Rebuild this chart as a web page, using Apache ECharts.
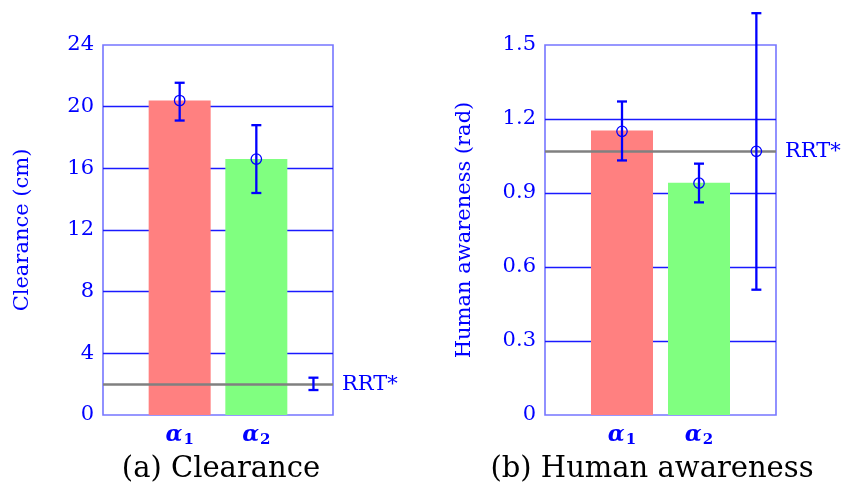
<!DOCTYPE html>
<html><head><meta charset="utf-8">
<script src="https://cdn.jsdelivr.net/npm/echarts@6/dist/echarts.min.js"></script>
<style>html,body{margin:0;padding:0;background:#fff}#c{width:861px;height:493px}</style>
</head><body><div id="c"></div>
<script>
// ---- data ----
const categories = ['α_1', 'α_2'];
const clearanceMean = [20.4, 16.6];
const clearanceLow = [19.1, 14.4];
const clearanceHigh = [21.55, 18.8];
const clearanceRRT = [1.62, 2.0, 2.42];      // low, mean, high
const awarenessBar = [1.153, 0.942];
const awarenessMean = [1.15, 0.94];
const awarenessLow = [1.032, 0.862];
const awarenessHigh = [1.271, 1.019];
const awarenessRRT = [0.508, 1.069, 1.629];  // low, mean, high
const clearanceTicks = [0, 24, 4];           // min, max, step
const awarenessTicks = [0, 1.5, 0.3];
const rrtLabel = 'RRT*';
const captions = ['(a) Clearance', '(b) Human awareness'];
const yNames = ['Clearance (cm)', 'Human awareness (rad)'];

// ---- layout / style ----
const FONT = 'DejaVu Serif';
const BLUE = '#0000ff';
const barColors = ['#ff8080', '#80ff80'];
const RRT_POS = 2.745;
const grids = [
  {left: 103, top: 45, width: 230, height: 370},
  {left: 545, top: 45, width: 231, height: 370}
];

function catLabel(v) {
  const i = Math.round(v) - 1;
  if (Math.abs(v - Math.round(v)) > 1e-6 || i < 0 || i >= categories.length) return '';
  const [m, s] = categories[i].split('_');
  return '{a|' + m + '}{s|' + s + '}';
}

function errRender(params, api) {
  const x = api.value(0), lo = api.value(1), hi = api.value(2), m = api.value(3), circ = api.value(4);
  const pLo = api.coord([x, lo]), pHi = api.coord([x, hi]), pM = api.coord([x, m]);
  const cap = 5;
  const st = {stroke: BLUE, lineWidth: 2.3};
  const children = [
    {type: 'line', shape: {x1: pLo[0], y1: pLo[1], x2: pHi[0], y2: pHi[1]}, style: st},
    {type: 'line', shape: {x1: pLo[0] - cap, y1: pLo[1], x2: pLo[0] + cap, y2: pLo[1]}, style: st},
    {type: 'line', shape: {x1: pHi[0] - cap, y1: pHi[1], x2: pHi[0] + cap, y2: pHi[1]}, style: st}
  ];
  if (circ) children.push({type: 'circle', shape: {cx: pM[0], cy: pM[1], r: 5.2},
    style: {fill: 'none', stroke: BLUE, lineWidth: 1.3}});
  return {type: 'group', children};
}

function xAxisCfg(gi) {
  return {
    type: 'value', gridIndex: gi, min: 0, max: 3, interval: 1,
    axisLine: {show: false}, axisTick: {show: false}, splitLine: {show: false},
    axisLabel: {
      margin: 8, formatter: catLabel,
      rich: {
        a: {fontFamily: FONT, fontSize: 22, fontWeight: 'bold', fontStyle: 'italic', color: BLUE},
        s: {fontFamily: FONT, fontSize: 15, fontWeight: 'bold', color: BLUE, padding: [10, 0, 0, 1]}
      }
    }
  };
}
function yAxisCfg(gi, ticks, name, fmt) {
  return {
    type: 'value', gridIndex: gi, min: ticks[0], max: ticks[1], interval: ticks[2],
    name: name, nameLocation: 'middle', nameGap: 70,
    nameTextStyle: {fontFamily: FONT, fontSize: 21, color: BLUE},
    axisLine: {show: false}, axisTick: {show: false},
    axisLabel: {fontFamily: FONT, fontSize: 21, color: BLUE, margin: 9, formatter: fmt},
    splitLine: {show: true, showMinLine: false, showMaxLine: false, lineStyle: {color: '#1a1aff', width: 1.4}}
  };
}
function rrtMark(v) {
  return {
    silent: true, symbol: 'none',
    data: [{yAxis: v}],
    lineStyle: {color: '#808080', width: 2.6, type: 'solid'},
    label: {show: true, position: 'end', formatter: rrtLabel, color: BLUE, fontFamily: FONT, fontSize: 21, distance: 9}
  };
}

const xPos = categories.map((_, i) => i + 1);
const clearanceBars = clearanceMean.map((v, i) => ({value: [xPos[i], v], itemStyle: {color: barColors[i]}}));
const awarenessBars = awarenessBar.map((v, i) => ({value: [xPos[i], v], itemStyle: {color: barColors[i]}}));
const clearanceErr = clearanceMean.map((v, i) => [xPos[i], clearanceLow[i], clearanceHigh[i], v, 1])
  .concat([[RRT_POS, clearanceRRT[0], clearanceRRT[2], clearanceRRT[1], 0]]);
const awarenessErr = awarenessMean.map((v, i) => [xPos[i], awarenessLow[i], awarenessHigh[i], v, 1])
  .concat([[RRT_POS, awarenessRRT[0], awarenessRRT[2], awarenessRRT[1], 1]]);

const chart = echarts.init(document.getElementById('c'), null, {renderer: 'canvas'});
chart.setOption({
  animation: false,
  backgroundColor: '#ffffff',
  grid: grids.map(g => Object.assign({show: true, borderColor: '#7676ff', borderWidth: 1.6, backgroundColor: 'transparent', containLabel: false}, g)),
  xAxis: [xAxisCfg(0), xAxisCfg(1)],
  yAxis: [
    yAxisCfg(0, clearanceTicks, yNames[0], v => String(Math.round(v))),
    yAxisCfg(1, awarenessTicks, yNames[1], v => (Math.abs(v) < 1e-9 ? '0' : (Math.round(v * 10) / 10).toFixed(1)))
  ],
  series: [
    {type: 'bar', xAxisIndex: 0, yAxisIndex: 0, barWidth: 62, data: clearanceBars, markLine: rrtMark(clearanceRRT[1]), z: 2},
    {type: 'bar', xAxisIndex: 1, yAxisIndex: 1, barWidth: 62, data: awarenessBars, markLine: rrtMark(awarenessRRT[1]), z: 2},
    {type: 'custom', xAxisIndex: 0, yAxisIndex: 0, renderItem: errRender, data: clearanceErr, clip: false, z: 5},
    {type: 'custom', xAxisIndex: 1, yAxisIndex: 1, renderItem: errRender, data: awarenessErr, clip: false, z: 5}
  ],
  graphic: [
    {type: 'text', x: 221, y: 469, style: {text: captions[0], fontFamily: FONT, fontSize: 29, fill: '#000', align: 'center', verticalAlign: 'middle'}},
    {type: 'text', x: 652, y: 469, style: {text: captions[1], fontFamily: FONT, fontSize: 29, fill: '#000', align: 'center', verticalAlign: 'middle'}}
  ]
});
</script>
</body></html>
